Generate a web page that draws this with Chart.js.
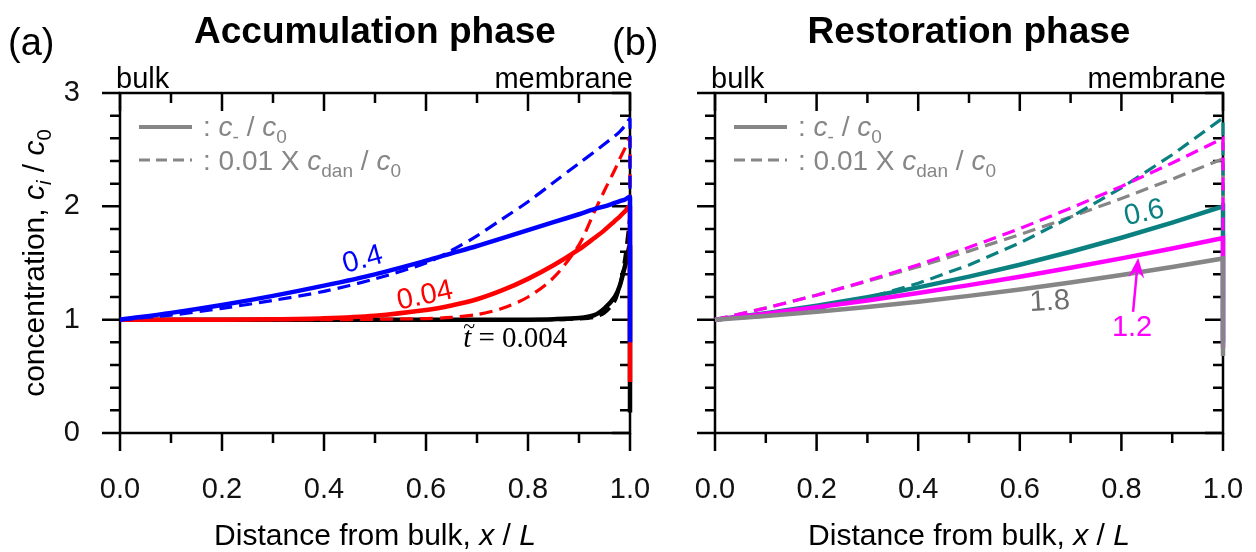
<!DOCTYPE html>
<html>
<head>
<meta charset="utf-8">
<script src="https://cdn.jsdelivr.net/npm/chart.js@4.4.1/dist/chart.umd.min.js"></script>
<style>
  body { margin: 0; background: #fff; }
  #wrap { position: relative; width: 1256px; height: 552px; overflow: hidden; background: #fff; }
  canvas { position: absolute; top: 0; }
  #panelA { left: 0; }
  #panelB { left: 600px; }
</style>
</head>
<body>
<div id="wrap">
  <canvas id="panelA" width="660" height="552"></canvas>
  <canvas id="panelB" width="656" height="552"></canvas>
</div>
<script>
const FONT = '"Liberation Sans", Arial, sans-serif'
const SERIF = '"Liberation Serif", "Times New Roman", serif'

// axis ticks
const xTickValues = [0, 0.2, 0.4, 0.6, 0.8, 1.0]
const xMinorValues = [0.1, 0.3, 0.5, 0.7, 0.9]
const yTickValues = [0, 1, 2, 3]
const yMinorValues = [0.2, 0.4, 0.6, 0.8, 1.2, 1.4, 1.6, 1.8, 2.2, 2.4, 2.6, 2.8]

// (a) accumulation phase - last point of each series is the drop at the membrane
const accX      = [0, 0.1, 0.2, 0.3, 0.4, 0.5, 0.6, 0.65, 0.7, 0.75, 0.8, 0.85, 0.9, 0.93, 0.95, 0.97, 0.98, 0.99, 1.0, 1.0]
const accBlue   = [1, 1.06, 1.13, 1.21, 1.30, 1.40, 1.52, 1.585, 1.65, 1.72, 1.79, 1.86, 1.93, 1.975, 2.0, 2.03, 2.045, 2.06, 2.08, 0.80]
const accBlueD  = [1, 1.04, 1.10, 1.17, 1.25, 1.36, 1.50, 1.61, 1.74, 1.89, 2.04, 2.21, 2.38, 2.48, 2.55, 2.62, 2.66, 2.71, 2.77, 2.08]
const accRed    = [1, 1, 1, 1.003, 1.012, 1.035, 1.085, 1.125, 1.18, 1.26, 1.36, 1.48, 1.62, 1.72, 1.79, 1.87, 1.91, 1.955, 2.0, 0.45]
const accRedD   = [1, 1, 1, 1, 1, 1.003, 1.01, 1.02, 1.045, 1.10, 1.20, 1.37, 1.66, 1.95, 2.14, 2.32, 2.42, 2.51, 2.6, 2.0]
const accBlack  = [1, 1, 1, 1, 1, 1, 1, 1, 1, 1, 1, 1.004, 1.015, 1.04, 1.10, 1.20, 1.30, 1.47, 1.65, 0.18]
const accBlackD = [1, 1, 1, 1, 1, 1, 1, 1, 1, 1, 1, 1, 1.006, 1.02, 1.06, 1.16, 1.3, 1.55, 1.9, 1.65]

// (b) restoration phase
const resX      = [0, 0.1, 0.2, 0.3, 0.4, 0.5, 0.6, 0.7, 0.8, 0.9, 1.0, 1.0]
const resTeal   = [1, 1.057, 1.123, 1.199, 1.285, 1.38, 1.485, 1.599, 1.723, 1.857, 2.0, 0.8]
const resTealD  = [1, 1.031, 1.095, 1.192, 1.321, 1.483, 1.677, 1.904, 2.163, 2.455, 2.78, 2.0]
const resMag    = [1, 1.052, 1.109, 1.17, 1.235, 1.305, 1.379, 1.458, 1.541, 1.628, 1.72, 0.75]
const resMagD   = [1, 1.102, 1.216, 1.344, 1.484, 1.638, 1.804, 1.984, 2.176, 2.382, 2.6, 1.72]
const resGray   = [1, 1.032, 1.07, 1.112, 1.158, 1.21, 1.266, 1.328, 1.394, 1.464, 1.54, 0.68]
const resGrayD  = [1, 1.104, 1.217, 1.338, 1.467, 1.605, 1.751, 1.906, 2.069, 2.24, 2.42, 1.54]

const BLUE = '#0000ff', RED = '#ff0000', BLACK = '#000000'
const TEAL = '#0b8080', MAGENTA = '#ff00ff', GRAY = '#868686'

function pts(xs, ys) {
    return ys.map((y, i) => ({ x: xs[i], y: y }))
}

function line(xs, ys, color, dashed, tension) {
    return {
        data: pts(xs, ys),
        borderColor: color,
        borderWidth: dashed ? 3.2 : 4.5,
        borderDash: dashed ? [13, 7] : [],
        pointRadius: 0,
        tension: tension,
        fill: false,
        clip: 8
    }
}

// text with italic / subscript pieces: [text, flags]
function drawRich(ctx, parts, x, y, size, color, align, family) {
    family = family || FONT
    let total = 0
    const info = parts.map(p => {
        const fl = p[1] || ''
        const sub = fl.includes('s')
        const fs = sub ? size * 0.68 : size
        const f = (fl.includes('i') ? 'italic ' : '') + fs + 'px ' + family
        ctx.font = f
        const w = ctx.measureText(p[0]).width
        total += w
        return { f: f, w: w, dy: sub ? size * 0.24 : 0 }
    })
    let cx = align === 'center' ? x - total / 2 : (align === 'right' ? x - total : x)
    ctx.fillStyle = color
    ctx.textAlign = 'left'
    ctx.textBaseline = 'alphabetic'
    parts.forEach((p, i) => {
        ctx.font = info[i].f
        ctx.fillText(p[0], cx, y + info[i].dy)
        cx += info[i].w
    })
}

const legendLine1 = [[': '], ['c', 'i'], ['-', 's'], [' / '], ['c', 'i'], ['0', 's']]
const legendLine2 = [[': 0.01 X '], ['c', 'i'], ['dan', 's'], [' / '], ['c', 'i'], ['0', 's']]

const panelPlugin = {
    id: 'panel',
    beforeDatasetsDraw(chart, args, o) {
        const ctx = chart.ctx
        const { left, right, top, bottom } = chart.chartArea
        const xs = chart.scales.x, ys = chart.scales.y
        ctx.save()
        ctx.strokeStyle = '#000'
        ctx.lineWidth = 2.5
        ctx.strokeRect(left, top, right - left, bottom - top)
        ctx.beginPath()
        const xt = (vals, len) => vals.forEach(v => {
            const p = xs.getPixelForValue(v)
            ctx.moveTo(p, bottom); ctx.lineTo(p, bottom + len)
            ctx.moveTo(p, top); ctx.lineTo(p, top + len)
        })
        const yt = (vals, len) => vals.forEach(v => {
            const p = ys.getPixelForValue(v)
            ctx.moveTo(left, p); ctx.lineTo(left - len, p)
            ctx.moveTo(right, p); ctx.lineTo(right - len, p)
        })
        xt(xTickValues, 18); xt(xMinorValues, 10)
        yt(yTickValues, 18); yt(yMinorValues, 10)
        ctx.stroke()
        ctx.restore()
    },
    afterDraw(chart, args, o) {
        const ctx = chart.ctx
        const { left, right, top, bottom } = chart.chartArea
        const xs = chart.scales.x, ys = chart.scales.y
        const mid = (left + right) / 2
        ctx.save()

        // panel tag and title
        ctx.fillStyle = '#000'
        ctx.textAlign = 'left'
        ctx.textBaseline = 'alphabetic'
        ctx.font = '38px ' + FONT
        ctx.fillText(o.tag, o.tagX, 55)
        ctx.textAlign = 'center'
        ctx.font = 'bold 37px ' + FONT
        ctx.fillText(o.title, mid, 43)

        ctx.font = '29px ' + FONT
        ctx.textAlign = 'left'
        ctx.fillText('bulk', left - 4, 88)
        ctx.textAlign = 'right'
        ctx.fillText('membrane', right + 3, 88)

        // axis titles
        drawRich(ctx, [['Distance from bulk, '], ['x', 'i'], [' / '], ['L', 'i']], mid, bottom + 112, 30, '#000', 'center')
        if (o.yTitle) {
            ctx.save()
            ctx.translate(o.yTitleX, (top + bottom) / 2)
            ctx.rotate(-Math.PI / 2)
            drawRich(ctx, [['concentration, '], ['c', 'i'], ['i', 'is'], [' / '], ['c', 'i'], ['0', 's']], 0, 10, 30, '#000', 'center')
            ctx.restore()
        }

        // legend
        const lx = left + 19
        ctx.strokeStyle = GRAY
        ctx.lineWidth = 4
        ctx.beginPath(); ctx.moveTo(lx, top + 34); ctx.lineTo(lx + 53, top + 34); ctx.stroke()
        ctx.lineWidth = 3
        ctx.setLineDash([11, 6, 11, 6, 11, 6, 3, 4])
        ctx.beginPath(); ctx.moveTo(lx, top + 67); ctx.lineTo(lx + 53, top + 67); ctx.stroke()
        ctx.setLineDash([])
        drawRich(ctx, legendLine1, lx + 64, top + 43, 28, GRAY, 'left')
        drawRich(ctx, legendLine2, lx + 64, top + 77, 28, GRAY, 'left')

        // curve labels
        o.notes.forEach(n => {
            ctx.save()
            ctx.translate(xs.getPixelForValue(n[1]), ys.getPixelForValue(n[2]))
            ctx.rotate(n[3] * Math.PI / 180)
            ctx.fillStyle = n[4]
            ctx.font = '29px ' + FONT
            ctx.textAlign = 'center'
            ctx.textBaseline = 'middle'
            ctx.fillText(n[0], 0, 0)
            ctx.restore()
        })

        if (o.timeNote) {
            const tn = o.timeNote
            const px = xs.getPixelForValue(tn[0]), py = ys.getPixelForValue(tn[1])
            ctx.font = 'italic 29px ' + SERIF
            const wt = ctx.measureText('t').width
            ctx.font = '29px ' + SERIF
            const wr = ctx.measureText(' = 0.004').width
            const x0 = px - (wt + wr) / 2
            ctx.fillStyle = '#000'
            ctx.textAlign = 'left'
            ctx.textBaseline = 'alphabetic'
            ctx.font = 'italic 29px ' + SERIF
            ctx.fillText('t', x0, py)
            ctx.font = '29px ' + SERIF
            ctx.fillText(' = 0.004', x0 + wt, py)
            ctx.textAlign = 'center'
            ctx.font = '22px ' + SERIF
            ctx.fillText('~', x0 + wt / 2 + 2, py - 14)
        }

        if (o.arrow) {
            const a = o.arrow
            const x1 = xs.getPixelForValue(a[0]), y1 = ys.getPixelForValue(a[1])
            const x2 = xs.getPixelForValue(a[2]), y2 = ys.getPixelForValue(a[3])
            const ang = Math.atan2(y2 - y1, x2 - x1)
            ctx.strokeStyle = MAGENTA
            ctx.fillStyle = MAGENTA
            ctx.lineWidth = 2.5
            ctx.beginPath(); ctx.moveTo(x1, y1); ctx.lineTo(x2 - 10 * Math.cos(ang), y2 - 10 * Math.sin(ang)); ctx.stroke()
            ctx.beginPath()
            ctx.moveTo(x2, y2)
            ctx.lineTo(x2 - 20 * Math.cos(ang) + 8 * Math.sin(ang), y2 - 20 * Math.sin(ang) - 8 * Math.cos(ang))
            ctx.lineTo(x2 - 13 * Math.cos(ang), y2 - 13 * Math.sin(ang))
            ctx.lineTo(x2 - 20 * Math.cos(ang) - 8 * Math.sin(ang), y2 - 20 * Math.sin(ang) + 8 * Math.cos(ang))
            ctx.closePath()
            ctx.fill()
        }
        ctx.restore()
    }
}

function criarPainel(id, datasets, yWidth, padRight, showY, panelOpts) {
    const ctx = document.getElementById(id).getContext('2d')
    new Chart(ctx, {
        type: 'line',
        data: { datasets: datasets },
        options: {
            responsive: false,
            animation: false,
            layout: { padding: { left: 0, right: padRight, top: 93, bottom: 0 } },
            plugins: {
                legend: { display: false },
                tooltip: { enabled: false },
                panel: panelOpts
            },
            scales: {
                x: {
                    type: 'linear',
                    min: 0,
                    max: 1,
                    grid: { display: false },
                    border: { display: false },
                    afterBuildTicks: s => { s.ticks = xTickValues.map(v => ({ value: v })) },
                    ticks: {
                        callback: v => Number(v).toFixed(1),
                        font: { family: FONT, size: 29 },
                        color: '#111',
                        padding: 32,
                        maxRotation: 0,
                        autoSkip: false
                    },
                    afterFit: s => {
                        s.height = 119
                        s.paddingLeft = 0
                        s.paddingRight = 0
                    }
                },
                y: {
                    type: 'linear',
                    min: 0,
                    max: 3,
                    grid: { display: false },
                    border: { display: false },
                    afterBuildTicks: s => { s.ticks = yTickValues.map(v => ({ value: v })) },
                    ticks: {
                        display: showY,
                        font: { family: FONT, size: 29 },
                        color: '#111',
                        padding: 32
                    },
                    afterFit: s => {
                        s.width = yWidth
                        s.paddingTop = 0
                        s.paddingBottom = 0
                    }
                }
            }
        },
        plugins: [panelPlugin]
    })
}

// first dataset is drawn on top
criarPainel('panelA', [
    line(accX, accBlue, BLUE, false, 0.3),
    line(accX, accBlueD, BLUE, true, 0.3),
    line(accX, accRed, RED, false, 0.3),
    line(accX, accRedD, RED, true, 0.3),
    line(accX, accBlack, BLACK, false, 0.3),
    line(accX, accBlackD, BLACK, true, 0.3)
], 120, 30, true, {
    tag: '(a)', tagX: 8, title: 'Accumulation phase', yTitle: true, yTitleX: 34,
    notes: [['0.4', 0.476, 1.527, -15, BLUE], ['0.04', 0.598, 1.209, -12, RED]],
    timeNote: [0.775, 0.76]
})

criarPainel('panelB', [
    line(resX, resGray, GRAY, false, 0),
    line(resX, resMag, MAGENTA, false, 0),
    line(resX, resMagD, MAGENTA, true, 0),
    line(resX, resTeal, TEAL, false, 0),
    line(resX, resTealD, TEAL, true, 0),
    line(resX, resGrayD, GRAY, true, 0)
], 115, 33, false, {
    tag: '(b)', tagX: 12, title: 'Restoration phase', yTitle: false,
    notes: [['0.6', 0.845, 1.94, -12, TEAL], ['1.8', 0.659, 1.156, -3, '#6e6e6e'], ['1.2', 0.821, 0.927, 0, MAGENTA]],
    arrow: [0.823, 1.068, 0.833, 1.545]
})
</script>
</body>
</html>
